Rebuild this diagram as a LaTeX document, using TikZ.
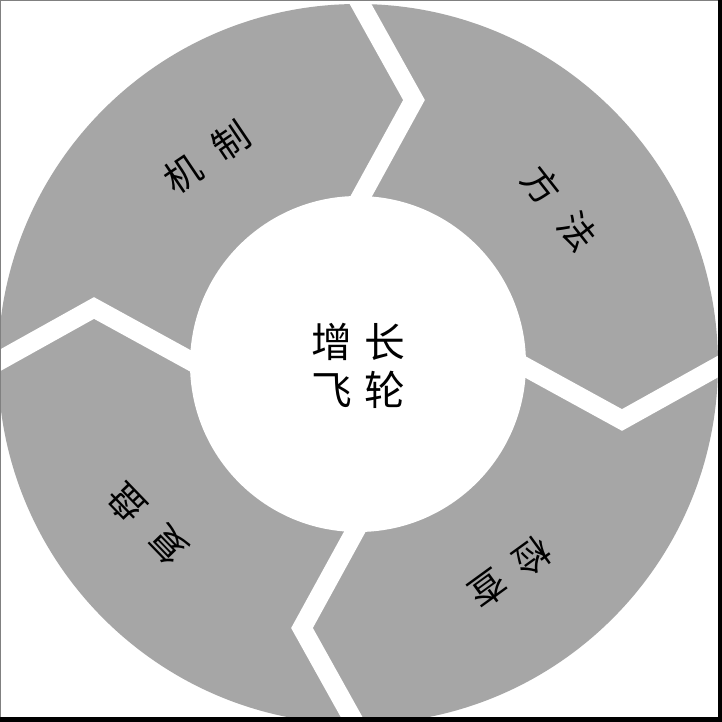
\documentclass[tikz,border=0pt]{standalone}
\usepackage{fontspec}
\newfontfamily\cjk{Noto Sans CJK SC}
\usepackage{tikz}
\usetikzlibrary{positioning}
\definecolor{ringgray}{RGB}{166,166,166}

\begin{document}
\begin{tikzpicture}[
    x=0.025cm, y=0.025cm,
    ring/.style={fill=ringgray},
    gapline/.style={draw=white, line width=0.475cm, miter limit=20},
    hubtext/.style={font=\cjk\fontsize{29}{34}\selectfont, align=center, inner sep=0pt},
    steptext/.style={font=\cjk\fontsize{26}{30}\selectfont, inner sep=0pt}
]
    \useasboundingbox (-358,-358) rectangle (364,364);
    \begin{scope}
        \clip (-358,-353) rectangle (360,364);
        \fill[white] (-358,-353) rectangle (360,364);
        % the wheel and its four cuts
        \fill[ring] (0,0) circle (360);
        \foreach \a in {0,-90,-180,-270}
            \draw[gapline, rotate=\a] (-12,140) -- (56,264) -- (-22,404);
        \fill[white] (0,0) circle (168);
    \end{scope}

    \node[hubtext] (hub) at (0,-2) {增\hspace{0.3em}长\\飞\hspace{0.3em}轮};
    \node[steptext, rotate=34] (jizhi) at (-151,207) {机\hspace{0.6em}制};
    \node[steptext, rotate=-52] (fangfa) at (202,156) {方\hspace{0.6em}法};
    \node[steptext, rotate=-144] (jiancha) at (152,-209) {检\hspace{0.5em}查};
    \node[steptext, rotate=134] (fupan) at (-211,-160) {复\hspace{0.6em}盘};

    % frame
    \fill[black] (360,-358) rectangle (364,364);
    \fill[black] (-358,-358) rectangle (364,-353);
    \draw[gray, line width=0.4pt] (-357.5,-353) -- (-357.5,363.5) -- (360,363.5);
\end{tikzpicture}
\end{document}
